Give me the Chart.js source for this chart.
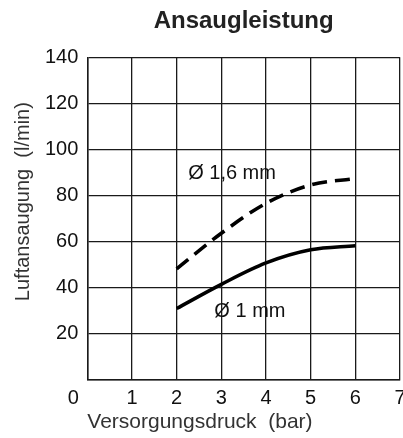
<!DOCTYPE html>
<html>
<head>
<meta charset="utf-8">
<script src="https://cdn.jsdelivr.net/npm/chart.js@4"></script>
<style>
  html, body { margin: 0; padding: 0; background: #fff; }
  #wrap { width: 403px; height: 438px; }
</style>
</head>
<body>
<div id="wrap"><canvas id="chart" width="403" height="438"></canvas></div>
<script>
// pressure in bar, air suction in l/min
const pressure = [2, 3, 4, 5, 6];
const flow16 = [48, 63.5, 76.5, 84.5, 87.3];
const flow10 = [30.8, 41.3, 50.6, 56.3, 58.1];

const xTicks = [0, 1, 2, 3, 4, 5, 6, 7];
const yTicks = [0, 20, 40, 60, 80, 100, 120, 140];

// curve captions, placed in data units
const captionText = ["Ø 1,6 mm", "Ø 1 mm"];
const captionX = [3.24, 3.64];
const captionY = [89.7, 29.3];

const FONT = "'Liberation Sans', Arial, Helvetica, sans-serif";
const gridColor = "#1a1a1a";

const toPoints = (xs, ys) => xs.map((x, i) => ({ x: x, y: ys[i] }));

const captions = {
  id: "captions",
  afterDatasetsDraw(chart) {
    const ctx = chart.ctx;
    const xs = chart.scales.x;
    const ys = chart.scales.y;
    ctx.save();
    ctx.font = "20px " + FONT;
    ctx.fillStyle = "#111";
    ctx.textAlign = "center";
    ctx.textBaseline = "middle";
    captionText.forEach((t, i) => {
      ctx.fillText(t, xs.getPixelForValue(captionX[i]), ys.getPixelForValue(captionY[i]));
    });
    ctx.restore();
  },
};

new Chart(document.getElementById("chart").getContext("2d"), {
  type: "line",
  data: {
    datasets: [
      {
        label: "Ø 1,6 mm",
        data: toPoints(pressure, flow16),
        borderColor: "#000",
        borderWidth: 3.6,
        borderDash: [15, 8],
        borderCapStyle: "butt",
        cubicInterpolationMode: "monotone",
        pointRadius: 0,
        fill: false,
      },
      {
        label: "Ø 1 mm",
        data: toPoints(pressure, flow10),
        borderColor: "#000",
        borderWidth: 3.6,
        cubicInterpolationMode: "monotone",
        pointRadius: 0,
        fill: false,
      },
    ],
  },
  options: {
    responsive: false,
    animation: false,
    layout: { padding: { left: 8, right: 3, top: 0, bottom: 0 } },
    plugins: {
      legend: { display: false },
      tooltip: { enabled: false },
      title: {
        display: true,
        fullSize: false,
        text: "Ansaugleistung",
        color: "#222",
        font: { family: FONT, size: 24, weight: "bold" },
        padding: { top: 6.6, bottom: 21.9 },
      },
    },
    scales: {
      x: {
        type: "linear",
        min: 0,
        max: 7,
        afterBuildTicks: (scale) => {
          scale.ticks = xTicks.map((v) => ({ value: v }));
        },
        afterFit: (scale) => {
          scale.height = 58.7;
          scale.paddingLeft = 0;
          scale.paddingRight = 0;
        },
        ticks: {
          color: "#111",
          padding: 7,
          maxRotation: 0,
          autoSkip: false,
          font: { family: FONT, size: 20 },
          callback: (v) => (v === 0 ? "0     " : String(v)),
        },
        grid: { color: gridColor, lineWidth: 1.3, drawTicks: false },
        border: { color: gridColor, width: 1.5 },
        title: {
          display: true,
          text: "Versorgungsdruck  (bar)",
          align: "start",
          color: "#333",
          font: { family: FONT, size: 21 },
          padding: { top: 0, bottom: 3 },
        },
      },
      y: {
        min: 0,
        max: 140,
        afterBuildTicks: (scale) => {
          scale.ticks = yTicks.map((v) => ({ value: v }));
        },
        afterFit: (scale) => {
          scale.width = 79.3;
          scale.paddingTop = 0;
          scale.paddingBottom = 0;
        },
        ticks: {
          color: "#111",
          padding: 9,
          font: { family: FONT, size: 20 },
          callback: (v) => (v === 0 ? "" : String(v)),
        },
        grid: { color: gridColor, lineWidth: 1.3, drawTicks: false },
        border: { color: gridColor, width: 1.5 },
        title: {
          display: true,
          text: "      Luftansaugung  (l/min)",
          color: "#333",
          font: { family: FONT, size: 20 },
          padding: { top: 3, bottom: 0 },
        },
      },
    },
  },
  plugins: [captions],
});
</script>
</body>
</html>
